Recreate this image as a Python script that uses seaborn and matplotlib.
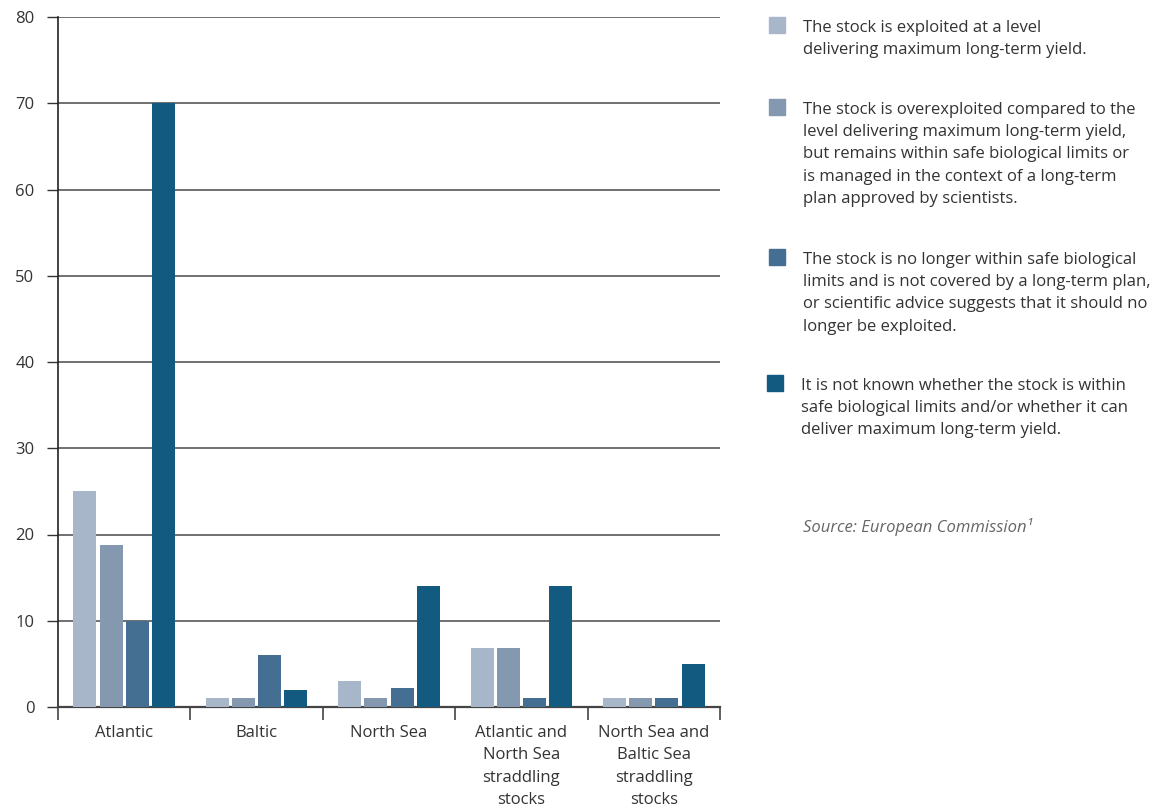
import matplotlib
matplotlib.use("Agg")
import matplotlib.pyplot as plt
import seaborn as sns
import pandas as pd
from matplotlib.patches import Rectangle

regions = ["Atlantic", "Baltic", "North Sea",
           "Atlantic and\nNorth Sea\nstraddling\nstocks",
           "North Sea and\nBaltic Sea\nstraddling\nstocks"]
statuses = [
    "The stock is exploited at a level\ndelivering maximum long-term yield.",
    "The stock is overexploited compared to the\nlevel delivering maximum long-term yield,\nbut remains within safe biological limits or\nis managed in the context of a long-term\nplan approved by scientists.",
    "The stock is no longer within safe biological\nlimits and is not covered by a long-term plan,\nor scientific advice suggests that it should no\nlonger be exploited.",
    "It is not known whether the stock is within\nsafe biological limits and/or whether it can\ndeliver maximum long-term yield.",
]
msy = [25, 1, 3, 6.8, 1]
overexploited = [18.8, 1, 1, 6.8, 1]
outside_limits = [10, 6, 2.2, 1, 1]
unknown = [70, 2, 14, 14, 5]
colors = ["#a8b6c9", "#8499b0", "#446e92", "#135a80"]
source = "Source: European Commission\u00b9"

series = [msy, overexploited, outside_limits, unknown]
rows = []
for s, vals in zip(statuses, series):
    for r, v in zip(regions, vals):
        rows.append({"region": r, "status": s, "value": v})
df = pd.DataFrame(rows)

sns.set_theme(style="white")
plt.rcParams["font.family"] = ["Open Sans", "DejaVu Sans"]
text_color = "#333333"
FS = 12
LS = 1.52

fig = plt.figure(figsize=(11.61, 8.09), dpi=100)
ax = fig.add_axes([58 / 1161, 1 - 707 / 809, (720 - 58) / 1161, (707 - 17) / 809])

sns.barplot(data=df, x="region", y="value", hue="status", hue_order=statuses,
            order=regions, palette=colors, saturation=1, width=0.79, gap=0.12,
            legend=False, ax=ax, zorder=3, linewidth=0, edgecolor="none")

ax.set_ylim(0, 80)
ax.set_xlim(-0.5, len(regions) - 0.5)
ax.set_yticks(range(0, 81, 10))
ax.yaxis.grid(True, color="#707070", linewidth=1.4, zorder=0)
ax.set_axisbelow(True)
ax.set_xlabel("")
ax.set_ylabel("")

ax.set_xticks([i - 0.5 for i in range(len(regions) + 1)])
ax.set_xticklabels([""] * (len(regions) + 1))
ax.set_xticks(range(len(regions)), minor=True)
ax.set_xticklabels(regions, minor=True, fontsize=FS, color=text_color, linespacing=LS,
                   va="top")
ax.tick_params(axis="x", which="major", length=9, width=1.2, color="#444444", direction="out",
               bottom=True)
ax.tick_params(axis="x", which="minor", length=0, pad=13, bottom=True)
ax.tick_params(axis="y", length=8, width=1, color="#333333", left=True, labelsize=FS,
               labelcolor=text_color, pad=9)

for side in ["top", "right"]:
    ax.spines[side].set_visible(False)
ax.spines["left"].set_color("#222222")
ax.spines["left"].set_linewidth(1.2)
ax.spines["bottom"].set_color("#444444")
ax.spines["bottom"].set_linewidth(1.6)

# legend (custom layout)
entry_tops = [19, 101, 251, 377]
square_x = [769, 769, 769, 767]
text_x = [803, 803, 803, 801]
for top, sx, tx, label, c in zip(entry_tops, square_x, text_x, statuses, colors):
    fig.patches.append(Rectangle((sx / 1161, 1 - (top + 14) / 809), 16 / 1161, 16 / 809,
                                 transform=fig.transFigure, color=c))
    fig.text(tx / 1161, 1 - (top + 1) / 809, label, fontsize=FS, color=text_color,
             va="top", ha="left", linespacing=LS)

fig.text(803 / 1161, 1 - 527 / 809, source, fontsize=FS, color="#666666",
         style="italic", va="center", ha="left")

fig.savefig("out.png", dpi=100)
